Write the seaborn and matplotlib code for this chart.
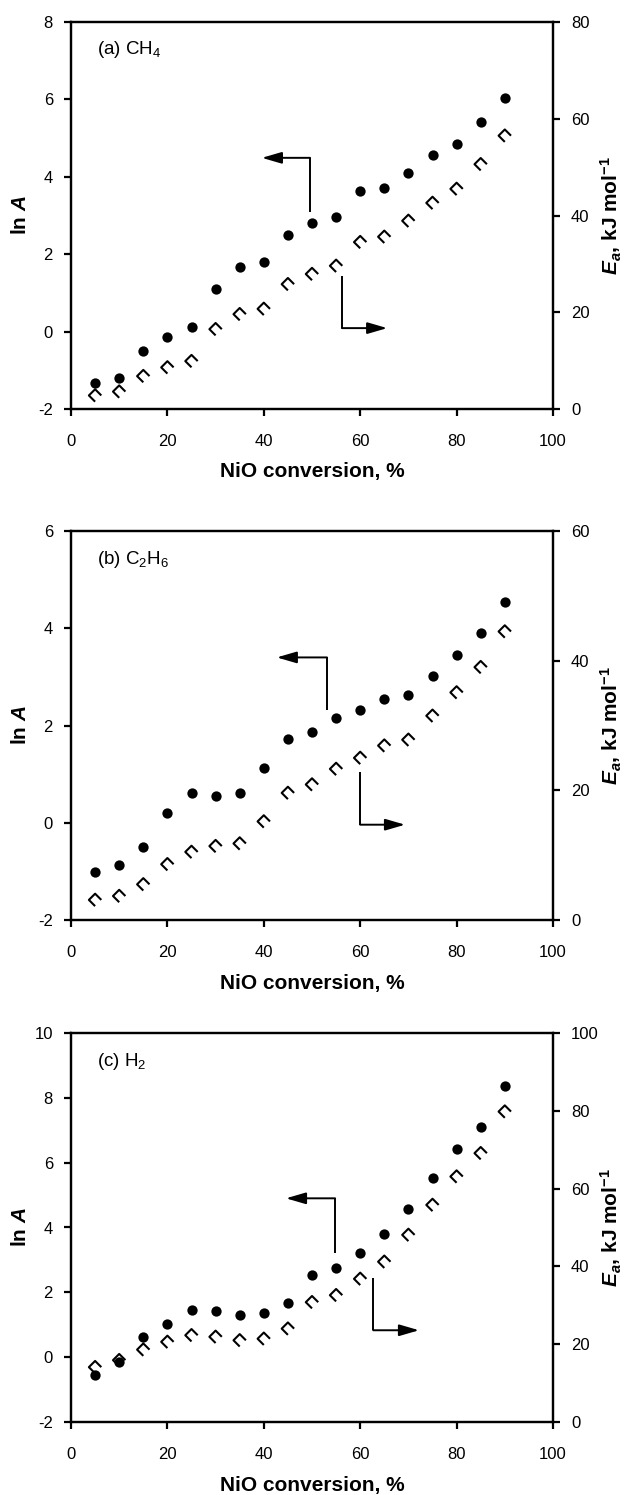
import matplotlib
matplotlib.use("Agg")
import matplotlib.pyplot as plt
import seaborn as sns
import pandas as pd
from matplotlib.path import Path

# ---------------- data ----------------
conversion = [5, 10, 15, 20, 25, 30, 35, 40, 45, 50, 55, 60, 65, 70, 75, 80, 85, 90]

ch4_lnA = [-1.33, -1.20, -0.51, -0.13, 0.13, 1.09, 1.66, 1.80, 2.50, 2.80, 2.97,
           3.63, 3.70, 4.09, 4.56, 4.84, 5.42, 6.03]
ch4_Ea = [2.8, 3.6, 6.8, 8.6, 9.9, 16.5, 19.6, 20.7, 25.8, 27.9, 29.6,
          34.5, 35.6, 38.9, 42.6, 45.5, 50.6, 56.5]

c2h6_lnA = [-1.02, -0.86, -0.49, 0.21, 0.61, 0.55, 0.62, 1.12, 1.72, 1.86, 2.16,
            2.31, 2.54, 2.62, 3.02, 3.44, 3.90, 4.54]
c2h6_Ea = [3.1, 3.7, 5.5, 8.6, 10.5, 11.4, 11.8, 15.2, 19.6, 20.9, 23.3,
           25.0, 26.9, 27.8, 31.5, 35.1, 39.0, 44.5]

h2_lnA = [-0.54, -0.15, 0.62, 1.03, 1.47, 1.42, 1.31, 1.35, 1.67, 2.52, 2.76,
          3.22, 3.81, 4.58, 5.52, 6.41, 7.09, 8.37]
h2_Ea = [14.1, 15.9, 18.6, 20.6, 22.3, 21.9, 21.0, 21.4, 24.0, 30.8, 32.6,
         36.8, 41.2, 48.1, 55.8, 63.1, 69.1, 79.8]

panel_labels = ["(a) CH$_4$", "(b) C$_2$H$_6$", "(c) H$_2$"]
lnA_ticks = [[-2, 0, 2, 4, 6, 8], [-2, 0, 2, 4, 6], [-2, 0, 2, 4, 6, 8, 10]]
Ea_ticks = [[0, 20, 40, 60, 80], [0, 20, 40, 60], [0, 20, 40, 60, 80, 100]]
x_ticks = [0, 20, 40, 60, 80, 100]

# guide arrows (left-axis data coordinates): x_vertical, y_start, y_corner, x_end
left_arrows = [(49.6, 3.09, 4.49, 39.6), (53.1, 2.31, 3.40, 42.7), (54.8, 3.22, 4.90, 44.6)]
right_arrows = [(56.2, 1.44, 0.09, 65.6), (60.0, 1.04, -0.04, 69.3), (62.7, 2.44, 0.83, 72.2)]

lnA_series = [ch4_lnA, c2h6_lnA, h2_lnA]
Ea_series = [ch4_Ea, c2h6_Ea, h2_Ea]

# ---------------- style ----------------
sns.set_style("ticks")
plt.rcParams["font.family"] = ["Liberation Sans", "DejaVu Sans"]
plt.rcParams["mathtext.fontset"] = "custom"
plt.rcParams["mathtext.rm"] = "Liberation Sans"
plt.rcParams["mathtext.it"] = "Liberation Sans:italic"
plt.rcParams["mathtext.bf"] = "Liberation Sans:bold"
plt.rcParams["mathtext.bfit"] = "Liberation Sans:bold:italic"
plt.rcParams["axes.unicode_minus"] = False
plt.rcParams["text.color"] = "black"
plt.rcParams["axes.labelcolor"] = "black"
plt.rcParams["xtick.color"] = "black"
plt.rcParams["ytick.color"] = "black"

TICK_FS = 12
LABEL_FS = 15
PANEL_FS = 13.5
LW = 1.6

open_marker = Path([(1, 0), (0, 1), (-1, 0), (0, -1)],
                   [Path.MOVETO, Path.LINETO, Path.LINETO, Path.LINETO])

W, H = 632, 1495
fig = plt.figure(figsize=(W / 100, H / 100), dpi=100)

left_px, right_px = 71, 553
panel_tb = [(22, 409), (531, 920), (1033, 1422)]
ax_w = right_px - left_px

for i in range(3):
    top, bot = panel_tb[i]
    ax_h = bot - top
    ax = fig.add_axes([left_px / W, 1 - bot / H, ax_w / W, ax_h / H])
    ax2 = ax.twinx()

    df = pd.DataFrame({"conv": conversion, "lnA": lnA_series[i], "Ea": Ea_series[i]})

    sns.scatterplot(data=df, x="conv", y="lnA", ax=ax, marker="o", s=55,
                    color="black", edgecolor="black", linewidth=0, zorder=3)
    sns.scatterplot(data=df, x="conv", y="Ea", ax=ax2, marker=open_marker, s=80,
                    facecolor="none", edgecolor="black", linewidth=1.5, zorder=3)

    ax.set_xlim(0, 100)
    ax.set_ylim(lnA_ticks[i][0], lnA_ticks[i][-1])
    ax2.set_ylim(Ea_ticks[i][0], Ea_ticks[i][-1])
    ax.set_xticks(x_ticks)
    ax.set_yticks(lnA_ticks[i])
    ax2.set_yticks(Ea_ticks[i])

    for a in (ax, ax2):
        for sp in a.spines.values():
            sp.set_linewidth(LW)
            sp.set_color("black")
            sp.set_visible(True)
        a.tick_params(width=LW, length=5, labelsize=TICK_FS, color="black",
                      labelcolor="black", direction="out", pad=8)
    ax.tick_params(axis="y", left=True, right=False)
    ax2.tick_params(axis="y", left=False, right=True)
    ax.tick_params(axis="x", bottom=True, top=False, pad=13)

    xl = ax.set_xlabel("NiO conversion, %", fontsize=LABEL_FS, fontweight="bold",
                       color="black")
    xl.set_va("center")
    ax.xaxis.set_label_coords(0.5, -63 / ax_h)

    yl = ax.set_ylabel(r"ln $\mathbfit{A}$", fontsize=LABEL_FS, fontweight="bold",
                       color="black")
    yl.set_va("center")
    ax.yaxis.set_label_coords(-51 / ax_w, 0.5)

    yr = ax2.set_ylabel(r"$\mathbfit{E_a}$, kJ mol$^{\mathbf{-1}}$", fontsize=LABEL_FS,
                        fontweight="bold", color="black")
    yr.set_va("center")
    ax2.yaxis.set_label_coords(1 + 58 / ax_w, 0.5)

    ax.text(0.054, 0.928, panel_labels[i], transform=ax.transAxes, fontsize=PANEL_FS,
            ha="left", va="center", color="black")

    # arrows
    xv, y0, y1, xe = left_arrows[i]
    ax.plot([xv, xv], [y0, y1], color="black", lw=1.4, solid_capstyle="butt", zorder=4)
    ax.annotate("", xy=(xe, y1), xytext=(xv, y1),
                arrowprops=dict(arrowstyle="-|>,head_length=1.2,head_width=0.35",
                                color="black", lw=1.4, shrinkA=0, shrinkB=0))
    xv, y0, y1, xe = right_arrows[i]
    ax.plot([xv, xv], [y0, y1], color="black", lw=1.4, solid_capstyle="butt", zorder=4)
    ax.annotate("", xy=(xe, y1), xytext=(xv, y1),
                arrowprops=dict(arrowstyle="-|>,head_length=1.2,head_width=0.35",
                                color="black", lw=1.4, shrinkA=0, shrinkB=0))

fig.savefig("out.png", dpi=100, facecolor="white")
